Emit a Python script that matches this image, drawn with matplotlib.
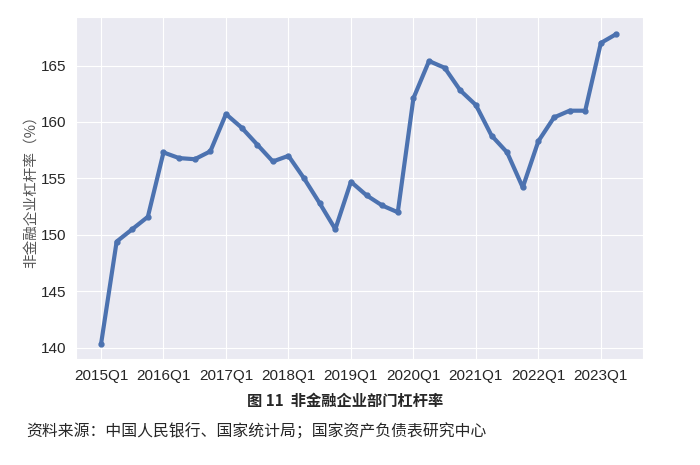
import matplotlib
matplotlib.use('Agg')
import matplotlib.pyplot as plt
import seaborn as sns

sns.set_style('darkgrid')
plt.rcParams['font.family'] = ['Liberation Sans', 'Noto Sans CJK SC', 'DejaVu Sans']

# Quarterly leverage ratio of non-financial corporates (%)
quarters = [f'{y}Q{q}' for y in range(2015, 2024) for q in range(1, 5)][:34]
leverage = [140.3, 149.4, 150.5, 151.6, 157.3, 156.8, 156.7, 157.4,
            160.7, 159.5, 158.0, 156.5, 157.0, 155.0, 152.8, 150.5,
            154.7, 153.5, 152.6, 152.0, 162.1, 165.4, 164.8, 162.8,
            161.5, 158.8, 157.3, 154.2, 158.3, 160.4, 161.0, 161.0,
            167.0, 167.8]
tick_labels = [q for q in quarters if q.endswith('Q1')]

fig = plt.figure(figsize=(7, 4.65), dpi=100)
ax = fig.add_axes([0.1086, 0.228, 0.81, 0.7354])

x = list(range(len(leverage)))
ax.plot(x, leverage, color='#4c72b0', linewidth=3, marker='o', markersize=3.5)

ax.set_xticks([quarters.index(t) for t in tick_labels])
ax.set_xticklabels(tick_labels, fontsize=11, color='#262626')
ax.set_yticks([140, 145, 150, 155, 160, 165])
ax.tick_params(axis='y', labelsize=11, labelcolor='#262626')
ax.set_xlim(-1.6, 34.7)
ax.set_ylim(139.0, 169.3)
ax.set_ylabel('非金融企业杠杆率（%）', fontsize=10.5, color='#555555',
              family=['Noto Sans CJK SC', 'DejaVu Sans'])
ax.yaxis.set_label_coords(-0.068, 0.5)

fig.text(0.493, 0.137, '图 11  非金融企业部门杠杆率', ha='center', va='center',
         fontsize=11, fontweight='bold', family=['Noto Sans CJK SC', 'DejaVu Sans'])
fig.text(0.037, 0.071, '资料来源：中国人民银行、国家统计局；国家资产负债表研究中心',
         ha='left', va='center', fontsize=11.4, family=['Noto Sans CJK SC', 'DejaVu Sans'])

fig.savefig('out.png', dpi=100)
